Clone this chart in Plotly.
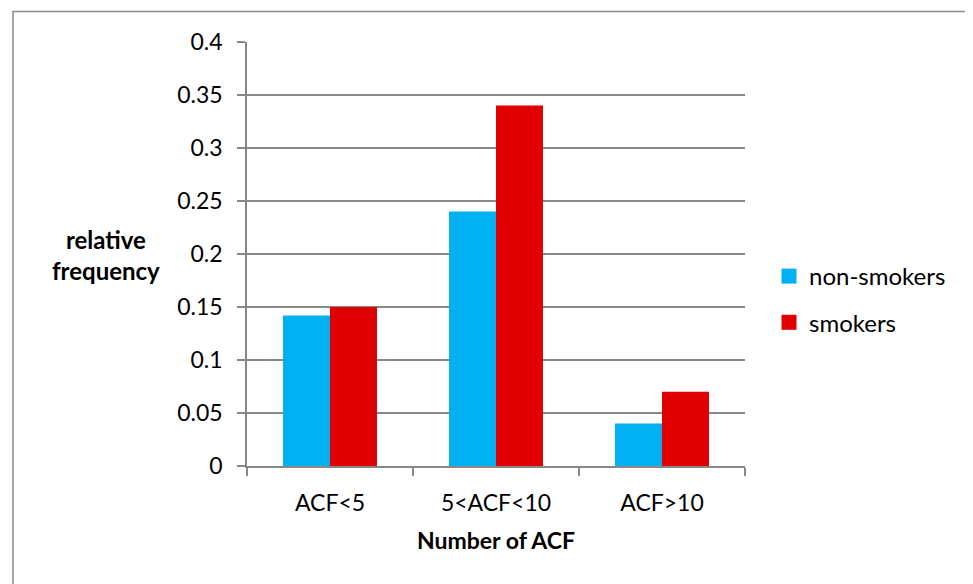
import plotly.graph_objects as go

categories = ["ACF<5", "5<ACF<10", "ACF>10"]
non_smokers = [0.142, 0.24, 0.04]
smokers = [0.15, 0.34, 0.07]
series_names = ["non-smokers", "smokers"]
series_colors = ["#00B0F0", "#E00000"]
y_ticks = [0, 0.05, 0.1, 0.15, 0.2, 0.25, 0.3, 0.35, 0.4]

FONT = "Lato"
GRID = "#878787"
OFF = 8  # page body margin in the browser
W, H = 973 - OFF, 584 - OFF
# plot area in reference (screen) pixels
X0, X1, Y0, Y1 = 247, 745, 42, 466
L, R = X0 - OFF, W - (X1 - OFF)
T, B = Y0 - OFF, H - (Y1 - OFF)
PW, PH = X1 - X0, Y1 - Y0


def px_x(p):
    return (p - X0) / PW


def px_y(p):
    return (Y1 - p) / PH


fig = go.Figure()
for name, vals, col in zip(series_names, [non_smokers, smokers], series_colors):
    fig.add_trace(go.Bar(x=categories, y=vals, name=name, legendgroup=name,
                         showlegend=False,
                         marker=dict(color=col, line=dict(width=0))))
# legend entries (square swatches)
for name, col in zip(series_names, series_colors):
    fig.add_trace(go.Scatter(x=[None], y=[None], mode="markers", name=name,
                             legendgroup=name, showlegend=True,
                             marker=dict(symbol="square", size=15, color=col)))

fig.update_layout(
    width=W, height=H,
    margin=dict(l=L, r=R, t=T, b=B, pad=0, autoexpand=False),
    paper_bgcolor="white", plot_bgcolor="white",
    barmode="group", bargap=0.434, bargroupgap=0,
    font=dict(family=FONT, size=24, color="black"),
    showlegend=True,
    legend=dict(x=px_x(769), y=px_y(254), xanchor="left", yanchor="top",
                font=dict(family=FONT, size=24, color="black"),
                itemwidth=30, tracegroupgap=12, traceorder="grouped",
                itemsizing="trace",
                bgcolor="rgba(0,0,0,0)"),
)
fig.update_xaxes(
    automargin=False,
    showline=True, linecolor=GRID, linewidth=1.5,
    ticks="outside", tickson="boundaries", ticklen=8, tickcolor=GRID, tickwidth=1.5,
    showgrid=False, tickfont=dict(family=FONT, size=23), fixedrange=True,
    ticklabelstandoff=16,
)
fig.update_yaxes(
    automargin=False,
    range=[0, 0.4], tickvals=y_ticks, ticktext=[f"{v:g}" for v in y_ticks],
    showline=True, linecolor=GRID, linewidth=1.5,
    ticks="outside", ticklen=8, tickcolor=GRID, tickwidth=1.5,
    showgrid=True, gridcolor=GRID, gridwidth=1.5, zeroline=False,
    tickfont=dict(family=FONT, size=23), fixedrange=True,
    ticklabelstandoff=10,
)

fig.add_annotation(text="<b>relative<br>frequency</b>", xref="paper", yref="paper",
                   x=px_x(106), y=px_y(255), xanchor="center", yanchor="middle",
                   showarrow=False, align="center",
                   font=dict(family=FONT, size=24))
fig.add_annotation(text="<b>Number of ACF</b>", xref="paper", yref="paper",
                   x=0.5, y=px_y(540), xanchor="center", yanchor="middle",
                   showarrow=False,
                   font=dict(family=FONT, size=23))

fig.add_shape(type="rect", xref="paper", yref="paper",
              x0=px_x(13), x1=px_x(990), y0=px_y(600), y1=px_y(11.5),
              line=dict(color="#8C8C8C", width=1.5), fillcolor="rgba(0,0,0,0)",
              layer="below")

fig.write_html("out.html")
